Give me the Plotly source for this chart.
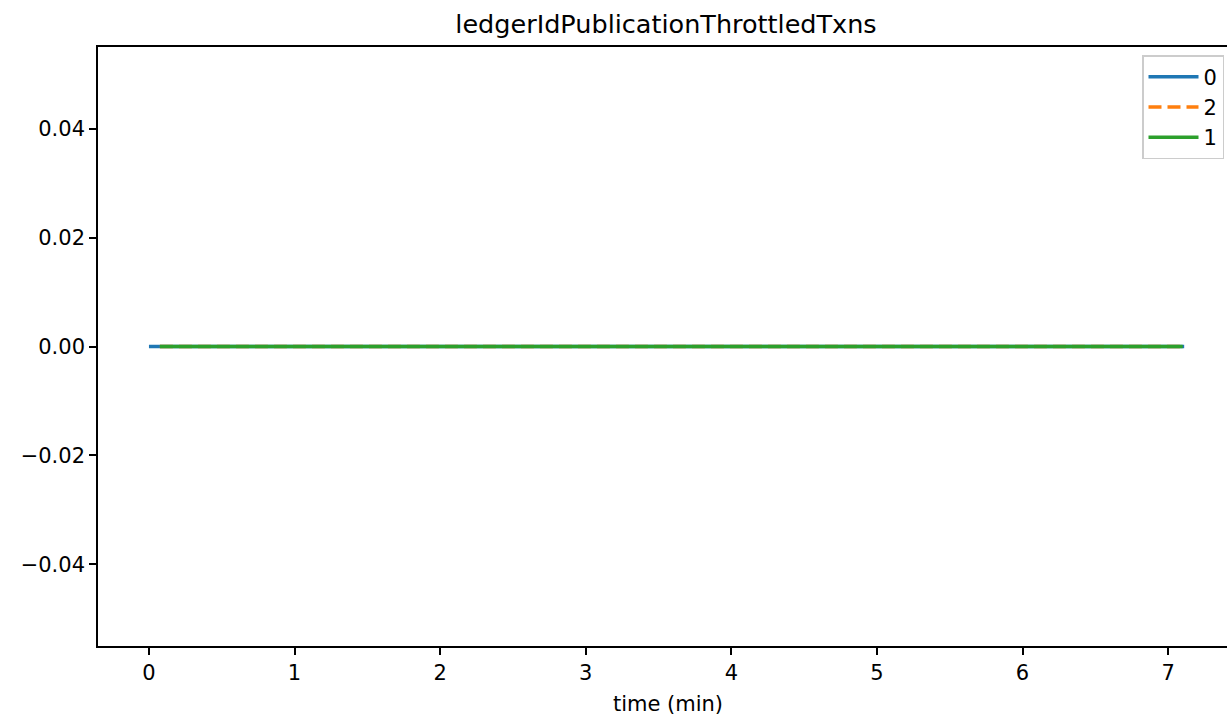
import plotly.graph_objects as go

# ---- data ----
series_names = ["0", "2", "1"]
t_0 = [0.0, 0.5, 1.0, 1.5, 2.0, 2.5, 3.0, 3.5, 4.0, 4.5, 5.0, 5.5, 6.0, 6.5, 7.0, 7.11]
v_0 = [0, 0, 0, 0, 0, 0, 0, 0, 0, 0, 0, 0, 0, 0, 0, 0]
t_2 = [0.075, 0.5, 1.0, 1.5, 2.0, 2.5, 3.0, 3.5, 4.0, 4.5, 5.0, 5.5, 6.0, 6.5, 7.0, 7.10]
v_2 = [0, 0, 0, 0, 0, 0, 0, 0, 0, 0, 0, 0, 0, 0, 0, 0]
t_1 = [0.075, 0.5, 1.0, 1.5, 2.0, 2.5, 3.0, 3.5, 4.0, 4.5, 5.0, 5.5, 6.0, 6.5, 7.0, 7.10]
v_1 = [0, 0, 0, 0, 0, 0, 0, 0, 0, 0, 0, 0, 0, 0, 0, 0]

x_tickvals = [0, 1, 2, 3, 4, 5, 6, 7]
y_tickvals = [-0.04, -0.02, 0.0, 0.02, 0.04]
y_ticktext = ["\u22120.04", "\u22120.02", "0.00", "0.02", "0.04"]

title_text = "ledgerIdPublicationThrottledTxns"
x_title = "time (min)"

colors = ["#1f77b4", "#ff7f0e", "#2ca02c"]
dashes = ["solid", "13px,6px", "solid"]

fig = go.Figure()
for name, t, v, c, d in zip(series_names, [t_0, t_2, t_1], [v_0, v_2, v_1], colors, dashes):
    fig.add_trace(go.Scatter(x=t, y=v, mode="lines", name=name,
                             line=dict(color=c, width=3.5, dash=d)))

FONT = "DejaVu Sans"
W, H = 1238, 716          # slightly wider than the window: right spine falls outside, as in the reference
L, R, T, B = 98, 0, 47, 70
TICK = 21

fig.update_layout(
    width=W, height=H,
    margin=dict(l=L, r=R, t=T, b=B),
    paper_bgcolor="white", plot_bgcolor="white",
    font=dict(family=FONT, size=TICK, color="black"),
    title=dict(text=title_text, x=666 / W, xanchor="center",
               y=1 - 24 / H, yanchor="middle", yref="container",
               font=dict(size=25.5, family=FONT, color="black")),
    showlegend=True,
    legend=dict(x=(1224 - L) / (W - L - R), xanchor="right",
                y=1 - (55 - T) / (H - T - B), yanchor="top",
                bgcolor="rgba(255,255,255,0.8)", bordercolor="#cccccc", borderwidth=1.5,
                font=dict(size=TICK, family=FONT, color="black"),
                itemwidth=50, tracegroupgap=0),
)

fig.update_xaxes(range=[-0.35, -0.35 + (W - L) / 145.6], tickvals=x_tickvals,
                 ticks="outside", ticklen=7, tickwidth=1.5, tickcolor="black",
                 showline=True, linecolor="black", linewidth=1.6, mirror=True,
                 showgrid=False, zeroline=False,
                 title=dict(text=x_title, font=dict(size=TICK, family=FONT), standoff=12),
                 tickfont=dict(size=TICK, family=FONT))
fig.update_yaxes(range=[-0.055, 0.055], tickvals=y_tickvals, ticktext=y_ticktext,
                 ticks="outside", ticklen=7, tickwidth=1.5, tickcolor="black",
                 showline=True, linecolor="black", linewidth=1.6, mirror=False,
                 showgrid=False, zeroline=False,
                 tickfont=dict(size=TICK, family=FONT))

fig.write_html("out.html",
               config={"displayModeBar": False},
               post_script=("document.body.style.margin='0';"
                            "document.body.style.overflow='hidden';"
                            "document.documentElement.style.overflow='hidden';"))
